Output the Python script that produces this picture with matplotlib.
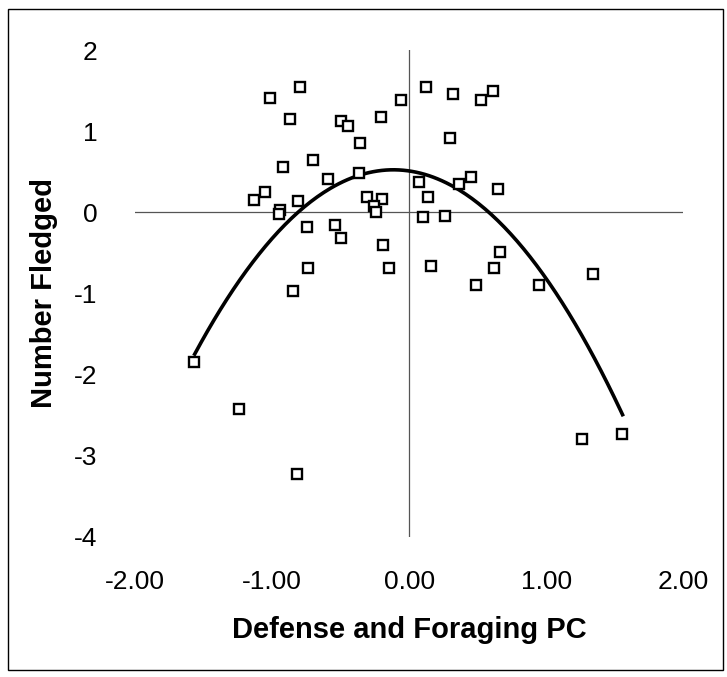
import numpy as np
import matplotlib.pyplot as plt
from matplotlib.patches import Rectangle

plt.rcParams['font.family'] = ['Liberation Sans', 'DejaVu Sans']
plt.rcParams['axes.unicode_minus'] = False

# defense and foraging PC vs number fledged
pc = [-0.80, -1.02, -0.06, -0.87, -0.50, -0.45, -0.21, -0.36, -0.70, -0.92,
      -0.59, -0.37, -0.81, -0.31, -0.20, -0.26, -0.24, -0.94, -0.95, -0.75,
      -0.54, -0.50, -0.19, -0.74, -0.15, -0.85, -1.05, -1.13, -1.57, -1.24,
      -0.82, 0.12, 0.32, 0.52, 0.61, 0.30, 0.07, 0.36, 0.45, 0.65,
      0.14, 0.10, 0.26, 0.66, 0.16, 0.62, 0.49, 0.95, 1.34, 1.26, 1.55]
fledged = [1.55, 1.41, 1.39, 1.15, 1.12, 1.07, 1.17, 0.85, 0.64, 0.56,
           0.41, 0.49, 0.14, 0.19, 0.17, 0.08, 0.00, 0.03, -0.02, -0.18,
           -0.15, -0.31, -0.40, -0.68, -0.69, -0.97, 0.25, 0.15, -1.85, -2.42,
           -3.22, 1.55, 1.46, 1.39, 1.49, 0.92, 0.37, 0.35, 0.44, 0.29,
           0.19, -0.06, -0.04, -0.49, -0.66, -0.69, -0.90, -0.90, -0.76, -2.79, -2.73]

# quadratic fit y = a*x^2 + b*x + c, drawn over the data range
fit_coef = [-1.08, -0.25, 0.51]
fit_range = [-1.566, 1.556]

xticks = [-2.0, -1.0, 0.0, 1.0, 2.0]
yticks = [-4, -3, -2, -1, 0, 1, 2]

fig = plt.figure(figsize=(7.27, 6.77), dpi=100)
ax = fig.add_axes([0.186, 0.207, 0.754, 0.719])

ax.axhline(0, color='#555555', lw=0.9, zorder=1)
ax.axvline(0, color='#555555', lw=0.9, zorder=1)

xf = np.linspace(fit_range[0], fit_range[1], 200)
ax.plot(xf, np.polyval(fit_coef, xf), color='black', lw=2.6, zorder=2)

ax.plot(pc, fledged, 's', ms=7.8, mfc='white', mec='black', mew=1.7, zorder=3)

ax.set_xlim(-2, 2)
ax.set_ylim(-4, 2)
ax.set_xticks(xticks)
ax.set_xticklabels([f"{v:.2f}" for v in xticks])
ax.set_yticks(yticks)
for s in ax.spines.values():
    s.set_visible(False)
ax.tick_params(length=0, labelsize=19)
ax.tick_params(axis='x', pad=24)
ax.tick_params(axis='y', pad=27)

ax.set_xlabel("Defense and Foraging PC", fontsize=21, fontweight='bold', labelpad=16)
ax.set_ylabel("Number Fledged", fontsize=21, fontweight='bold', labelpad=12)

fig.patches.append(Rectangle((0.011, 0.01), 0.984, 0.976, transform=fig.transFigure,
                             fill=False, edgecolor='black', lw=1.0))

fig.savefig("out.png", dpi=100)
